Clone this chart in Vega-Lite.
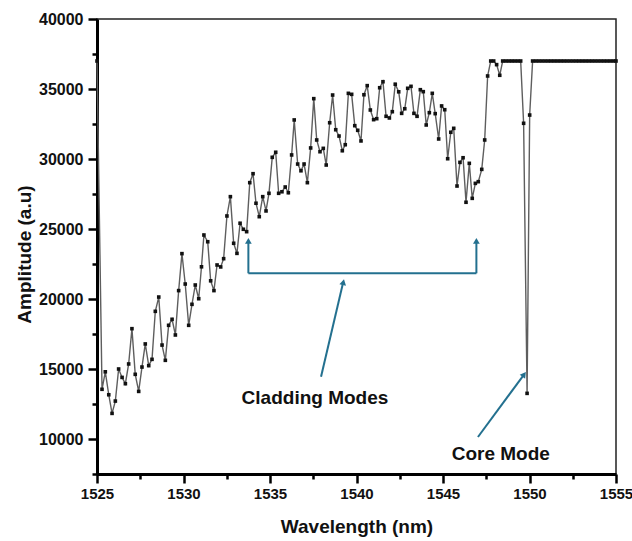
{
  "$schema": "https://vega.github.io/schema/vega-lite/v6.json",
  "width": 519,
  "height": 455,
  "autosize": {"type": "none"},
  "padding": {"left": 97, "top": 19, "right": 16, "bottom": 67},
  "background": "white",
  "config": {
    "view": {"stroke": "#222", "strokeWidth": 1.5},
    "font": "Liberation Sans",
    "axis": {
      "domainColor": "#000", "domainWidth": 3,
      "tickColor": "#000", "tickWidth": 2.5,
      "labelFont": "Liberation Sans", "labelFontWeight": "bold", "labelFontSize": 15, "labelColor": "#111",
      "titleFont": "Liberation Sans", "titleFontWeight": "bold", "titleFontSize": 19, "titleColor": "#111",
      "grid": false
    }
  },
  "datasets": {
    "spec": [
      {"w": 1525.00, "a": 37000}, {"w": 1525.29, "a": 13550}, {"w": 1525.48, "a": 14800}, {"w": 1525.68, "a": 13160},
      {"w": 1525.87, "a": 11830}, {"w": 1526.06, "a": 12710}, {"w": 1526.25, "a": 15000}, {"w": 1526.45, "a": 14400},
      {"w": 1526.64, "a": 13950}, {"w": 1526.83, "a": 15360}, {"w": 1527.02, "a": 17880}, {"w": 1527.21, "a": 14620},
      {"w": 1527.41, "a": 13400}, {"w": 1527.60, "a": 15140}, {"w": 1527.79, "a": 16790}, {"w": 1527.99, "a": 15240},
      {"w": 1528.18, "a": 15690}, {"w": 1528.37, "a": 19120}, {"w": 1528.57, "a": 20140}, {"w": 1528.76, "a": 16710},
      {"w": 1528.95, "a": 15620}, {"w": 1529.14, "a": 18120}, {"w": 1529.34, "a": 18550}, {"w": 1529.53, "a": 17430},
      {"w": 1529.72, "a": 20600}, {"w": 1529.91, "a": 23240}, {"w": 1530.10, "a": 21070}, {"w": 1530.30, "a": 18120},
      {"w": 1530.49, "a": 19620}, {"w": 1530.68, "a": 21000}, {"w": 1530.88, "a": 20020}, {"w": 1531.04, "a": 22300},
      {"w": 1531.18, "a": 24570}, {"w": 1531.40, "a": 24090}, {"w": 1531.57, "a": 21300}, {"w": 1531.76, "a": 20600},
      {"w": 1531.94, "a": 22430}, {"w": 1532.15, "a": 22290}, {"w": 1532.32, "a": 22880}, {"w": 1532.51, "a": 25930},
      {"w": 1532.71, "a": 27310}, {"w": 1532.90, "a": 23980}, {"w": 1533.09, "a": 23260}, {"w": 1533.27, "a": 25410},
      {"w": 1533.46, "a": 24980}, {"w": 1533.65, "a": 24810}, {"w": 1533.83, "a": 28310}, {"w": 1534.02, "a": 28950},
      {"w": 1534.19, "a": 26840}, {"w": 1534.38, "a": 25880}, {"w": 1534.58, "a": 27310}, {"w": 1534.77, "a": 26290},
      {"w": 1534.94, "a": 27550}, {"w": 1535.13, "a": 30120}, {"w": 1535.33, "a": 30480}, {"w": 1535.50, "a": 27550},
      {"w": 1535.69, "a": 27660}, {"w": 1535.88, "a": 28000}, {"w": 1536.06, "a": 27590}, {"w": 1536.25, "a": 30290},
      {"w": 1536.40, "a": 32790}, {"w": 1536.60, "a": 29640}, {"w": 1536.79, "a": 29160}, {"w": 1536.97, "a": 29640},
      {"w": 1537.16, "a": 28310}, {"w": 1537.35, "a": 30790}, {"w": 1537.53, "a": 34310}, {"w": 1537.70, "a": 31360},
      {"w": 1537.89, "a": 30520}, {"w": 1538.08, "a": 30760}, {"w": 1538.25, "a": 29570}, {"w": 1538.45, "a": 32590},
      {"w": 1538.62, "a": 34570}, {"w": 1538.80, "a": 32090}, {"w": 1538.99, "a": 31640}, {"w": 1539.18, "a": 30590},
      {"w": 1539.35, "a": 31020}, {"w": 1539.53, "a": 34690}, {"w": 1539.72, "a": 34620}, {"w": 1539.90, "a": 32380},
      {"w": 1540.07, "a": 32050}, {"w": 1540.26, "a": 31290}, {"w": 1540.43, "a": 34590}, {"w": 1540.62, "a": 35240},
      {"w": 1540.80, "a": 33500}, {"w": 1540.99, "a": 32810}, {"w": 1541.17, "a": 32880}, {"w": 1541.34, "a": 35090},
      {"w": 1541.53, "a": 35520}, {"w": 1541.71, "a": 33050}, {"w": 1541.90, "a": 32930}, {"w": 1542.07, "a": 33380},
      {"w": 1542.24, "a": 35340}, {"w": 1542.44, "a": 34800}, {"w": 1542.61, "a": 33260}, {"w": 1542.79, "a": 33590},
      {"w": 1542.96, "a": 35050}, {"w": 1543.15, "a": 35190}, {"w": 1543.32, "a": 33260}, {"w": 1543.50, "a": 33050},
      {"w": 1543.69, "a": 34950}, {"w": 1543.86, "a": 34810}, {"w": 1544.03, "a": 32430}, {"w": 1544.21, "a": 33310},
      {"w": 1544.38, "a": 34690}, {"w": 1544.55, "a": 33240}, {"w": 1544.75, "a": 31430}, {"w": 1544.92, "a": 33790},
      {"w": 1545.10, "a": 33520}, {"w": 1545.27, "a": 30020}, {"w": 1545.45, "a": 31910}, {"w": 1545.62, "a": 32190},
      {"w": 1545.81, "a": 28070}, {"w": 1545.98, "a": 29760}, {"w": 1546.16, "a": 30090}, {"w": 1546.33, "a": 26910},
      {"w": 1546.52, "a": 29690}, {"w": 1546.69, "a": 27190}, {"w": 1546.87, "a": 28260}, {"w": 1547.04, "a": 28380},
      {"w": 1547.24, "a": 29260}, {"w": 1547.41, "a": 31360}, {"w": 1547.58, "a": 35930}, {"w": 1547.76, "a": 37000},
      {"w": 1547.93, "a": 37000}, {"w": 1548.10, "a": 36740}, {"w": 1548.28, "a": 35980}, {"w": 1548.45, "a": 37000},
      {"w": 1548.62, "a": 37000}, {"w": 1548.80, "a": 37000}, {"w": 1548.97, "a": 37000}, {"w": 1549.14, "a": 37000},
      {"w": 1549.32, "a": 37000}, {"w": 1549.49, "a": 37000}, {"w": 1549.66, "a": 32550}, {"w": 1549.86, "a": 13260},
      {"w": 1550.01, "a": 33140}, {"w": 1550.18, "a": 37000}, {"w": 1550.36, "a": 37000}, {"w": 1550.54, "a": 37000},
      {"w": 1550.72, "a": 37000}, {"w": 1550.90, "a": 37000}, {"w": 1551.08, "a": 37000}, {"w": 1551.26, "a": 37000},
      {"w": 1551.44, "a": 37000}, {"w": 1551.62, "a": 37000}, {"w": 1551.80, "a": 37000}, {"w": 1551.98, "a": 37000},
      {"w": 1552.16, "a": 37000}, {"w": 1552.34, "a": 37000}, {"w": 1552.52, "a": 37000}, {"w": 1552.70, "a": 37000},
      {"w": 1552.88, "a": 37000}, {"w": 1553.06, "a": 37000}, {"w": 1553.24, "a": 37000}, {"w": 1553.42, "a": 37000},
      {"w": 1553.60, "a": 37000}, {"w": 1553.78, "a": 37000}, {"w": 1553.96, "a": 37000}, {"w": 1554.14, "a": 37000},
      {"w": 1554.32, "a": 37000}, {"w": 1554.50, "a": 37000}, {"w": 1554.68, "a": 37000}, {"w": 1554.86, "a": 37000},
      {"w": 1555.00, "a": 37000}
    ],
    "segs": [
      {"w": 1533.75, "a": 21835, "w2": 1546.93, "a2": 21835},
      {"w": 1533.75, "a": 21835, "w2": 1533.75, "a2": 24050},
      {"w": 1546.93, "a": 21835, "w2": 1546.93, "a2": 24050},
      {"w": 1537.95, "a": 14450, "w2": 1539.22, "a2": 21150},
      {"w": 1547.02, "a": 10143, "w2": 1549.65, "a2": 14550}
    ],
    "heads": [
      {"w": 1533.75, "a": 24150, "ang": 0},
      {"w": 1546.93, "a": 24150, "ang": 0},
      {"w": 1539.24, "a": 21200, "ang": 13},
      {"w": 1549.69, "a": 14614, "ang": 36}
    ],
    "labels": [
      {"w": 1537.60, "a": 12929, "t": "Cladding Modes"},
      {"w": 1548.34, "a": 8928, "t": "Core Mode"}
    ]
  },
  "encoding": {
    "x": {
      "field": "w", "type": "quantitative",
      "scale": {"domain": [1525, 1555], "nice": false, "zero": false},
      "axis": {
        "title": "Wavelength (nm)",
        "values": [1525, 1527.5, 1530, 1532.5, 1535, 1537.5, 1540, 1542.5, 1545, 1547.5, 1550, 1552.5, 1555],
        "labelExpr": "datum.value % 5 === 0 ? format(datum.value, 'd') : ''",
        "tickSize": {"condition": {"test": "datum.value % 5 !== 0", "value": 5}, "value": 9},
        "labelPadding": 3,
        "labelFlush": false,
        "labelOverlap": false,
        "titleY": 52,
        "titleBaseline": "middle"
      }
    },
    "y": {
      "field": "a", "type": "quantitative",
      "scale": {"domain": [7500, 40000], "nice": false, "zero": false},
      "axis": {
        "title": "Amplitude (a.u)",
        "values": [7500, 10000, 12500, 15000, 17500, 20000, 22500, 25000, 27500, 30000, 32500, 35000, 37500, 40000],
        "labelExpr": "datum.value % 5000 === 0 ? format(datum.value, 'd') : ''",
        "tickSize": {"condition": {"test": "datum.value % 5000 !== 0", "value": 5}, "value": 9},
        "labelFontSize": 16,
        "labelPadding": 5,
        "labelFlush": false,
        "labelOverlap": false,
        "titleX": -73,
        "titleY": 235,
        "titleBaseline": "middle"
      }
    }
  },
  "layer": [
    {
      "data": {"name": "spec"},
      "mark": {"type": "line", "color": "#5e5e5e", "strokeWidth": 1.4}
    },
    {
      "data": {"name": "spec"},
      "mark": {"type": "point", "shape": "square", "filled": true, "color": "#111", "size": 13, "opacity": 1}
    },
    {
      "data": {"name": "segs"},
      "mark": {"type": "rule", "color": "#23708f", "strokeWidth": 2},
      "encoding": {
        "x2": {"field": "w2"},
        "y2": {"field": "a2"}
      }
    },
    {
      "data": {"name": "heads"},
      "mark": {"type": "point", "shape": "triangle-up", "filled": true, "color": "#23708f", "size": 45, "opacity": 1},
      "encoding": {
        "angle": {"field": "ang", "type": "quantitative", "scale": null}
      }
    },
    {
      "data": {"name": "labels"},
      "mark": {"type": "text", "font": "Liberation Sans", "fontWeight": "bold", "fontSize": 19, "color": "#111", "align": "center", "baseline": "middle"},
      "encoding": {
        "text": {"field": "t"}
      }
    }
  ]
}
